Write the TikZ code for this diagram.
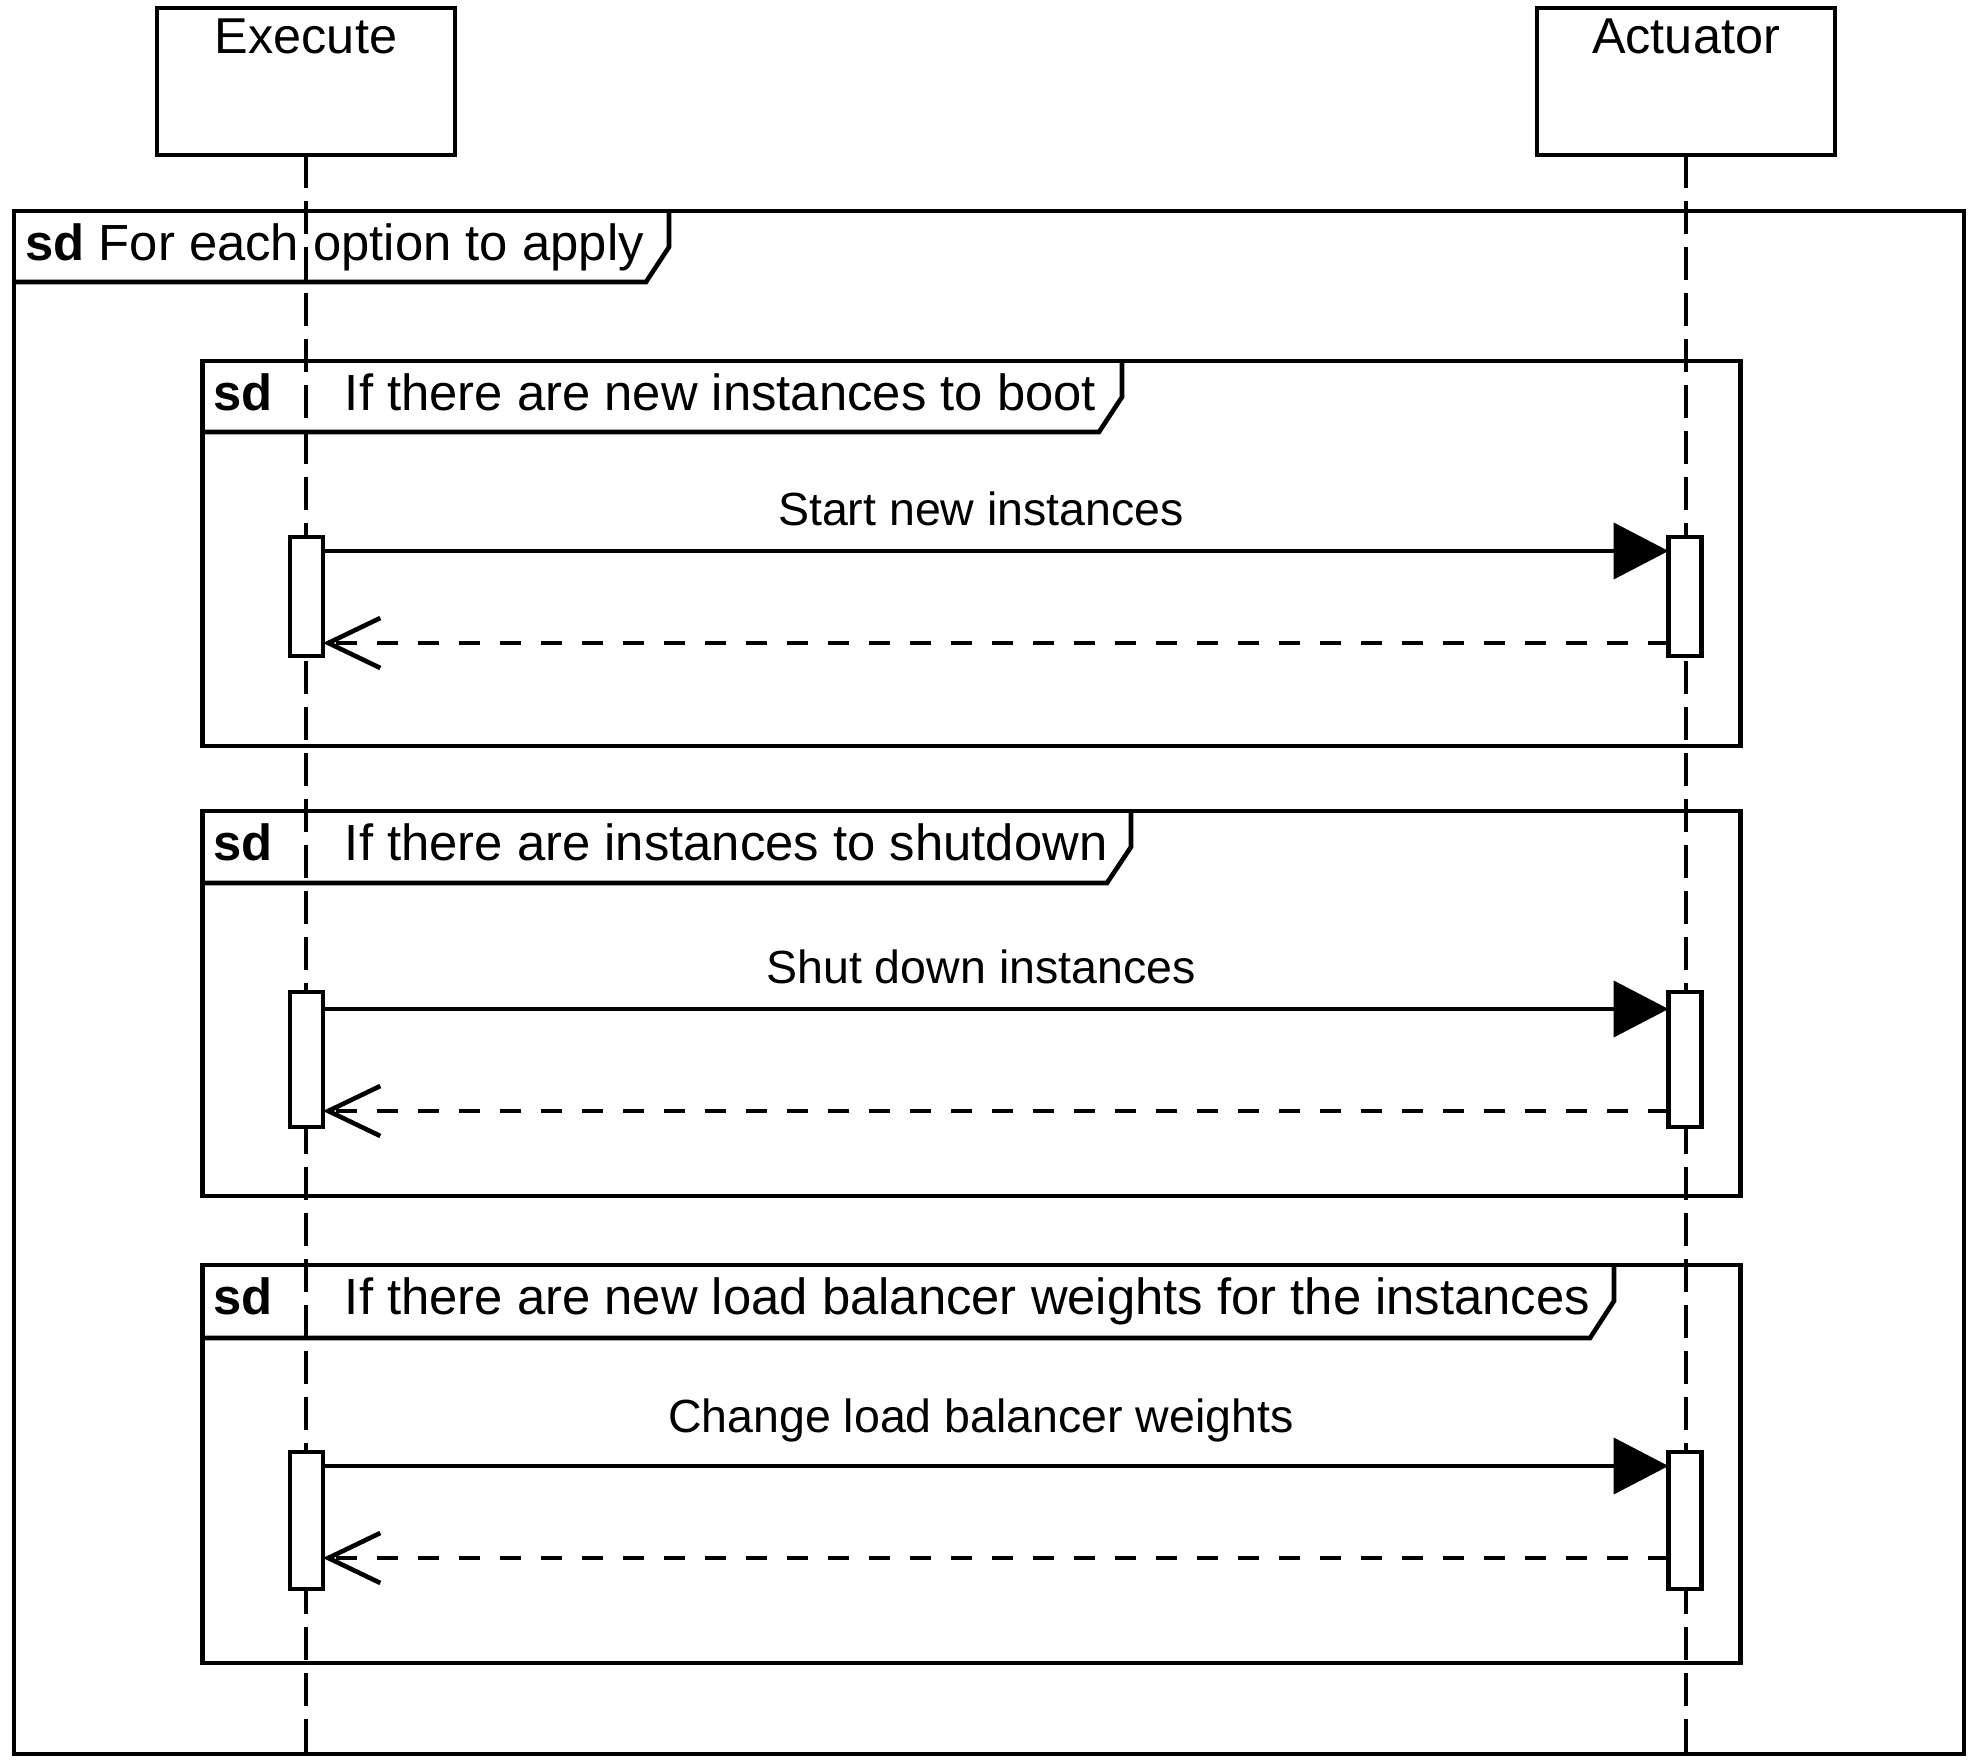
\documentclass[tikz,border=0pt]{standalone}
\usepackage{fontspec}
\setmainfont{Liberation Sans}
\usetikzlibrary{arrows.meta,calc}
\begin{document}
\begin{tikzpicture}[x=0.5pt,y=-0.5pt,
  objbox/.style={draw,line width=2.3pt,minimum width=149pt,minimum height=73.5pt,inner sep=0pt,outer sep=0pt},
  hdr/.style={font=\fontsize{25.2pt}{30pt}\selectfont,inner sep=0pt,anchor=base},
  hdrw/.style={font=\fontsize{25.4pt}{30pt}\selectfont,inner sep=0pt,anchor=base west},
  lbl/.style={font=\fontsize{23.25pt}{28pt}\selectfont,inner sep=0pt,anchor=base},
  lifeline/.style={line width=2.3pt,dash pattern=on 16.5pt off 6.5pt},
  actbar/.style={draw,fill=white,line width=2.3pt,minimum width=16.5pt,inner sep=0pt,outer sep=0pt},
  callmsg/.style={line width=2.3pt,-{Triangle[length=27.5pt,width=28pt]}},
  retmsg/.style={line width=2.3pt,dash pattern=on 10.5pt off 10pt,-{Straight Barb[length=26pt,width=25pt]}},
  framebox/.style={line width=2.3pt},
]
\useasboundingbox (0,0) rectangle (1972,1764);

% outer frame
\draw[framebox] (14,211) rectangle (1964,1754);
\draw[framebox] (14,282) -- (646,282) -- (669,247) -- (669,211);
\node[hdrw] (outerT) at (25,260.5) {\textbf{sd} For each option to apply};

% inner frames
\draw[framebox] (202.5,361) rectangle (1740.5,746);
\draw[framebox] (202.5,432) -- (1099,432) -- (1122,397) -- (1122,361);
\node[hdrw] (sd1) at (213,410.5) {\textbf{sd}};
\node[hdrw] (t1) at (344.5,410.5) {If there are new instances to boot};

\draw[framebox] (202.5,811) rectangle (1740.5,1196);
\draw[framebox] (202.5,883) -- (1107,883) -- (1131,847) -- (1131,811);
\node[hdrw] (sd2) at (213,860.5) {\textbf{sd}};
\node[hdrw] (t2) at (344.5,860.5) {If there are instances to shutdown};

\draw[framebox] (202.5,1265) rectangle (1740.5,1663);
\draw[framebox] (202.5,1338) -- (1590,1338) -- (1614,1301) -- (1614,1265);
\node[hdrw] (sd3) at (213,1314.5) {\textbf{sd}};
\node[hdrw] (t3) at (344.5,1314.5) {If there are new load balancer weights for the instances};

% participants
\node[objbox] (exec) at (306,81.5) {};
\node[hdr] (execT) at (306,54) {Execute};
\node[objbox] (act) at (1686,81.5) {};
\node[hdr] (actT) at (1686,54) {Actuator};

\coordinate (execEnd) at (306,1764);
\coordinate (actEnd) at (1686,1764);
\draw[lifeline] (exec.south) -- (execEnd);
\draw[lifeline] (act.south) -- (actEnd);

% activation bars
\node[actbar,minimum height=59.5pt] (e1) at (306.5,596.5) {};
\node[actbar,minimum height=59.5pt] (a1) at (1685,596.5) {};
\node[actbar,minimum height=67.5pt] (e2) at (306.5,1059.5) {};
\node[actbar,minimum height=67.5pt] (a2) at (1685,1059.5) {};
\node[actbar,minimum height=68.5pt] (e3) at (306.5,1520.5) {};
\node[actbar,minimum height=68.5pt] (a3) at (1685,1520.5) {};

% messages
\draw[callmsg] ($(e1.north east)+(0,14)$) -- ($(a1.north west)+(0,14)$);
\draw[retmsg] ($(a1.south west)+(0,-13)$) -- ($(e1.south east)+(0,-13)$);
\node[lbl] (m1) at (981,525.5) {Start new instances};

\draw[callmsg] ($(e2.north east)+(0,17)$) -- ($(a2.north west)+(0,17)$);
\draw[retmsg] ($(a2.south west)+(0,-16)$) -- ($(e2.south east)+(0,-16)$);
\node[lbl] (m2) at (981,984) {Shut down instances};

\draw[callmsg] ($(e3.north east)+(0,14)$) -- ($(a3.north west)+(0,14)$);
\draw[retmsg] ($(a3.south west)+(0,-31)$) -- ($(e3.south east)+(0,-31)$);
\node[lbl] (m3) at (981,1432) {Change load balancer weights};
\end{tikzpicture}
\end{document}
